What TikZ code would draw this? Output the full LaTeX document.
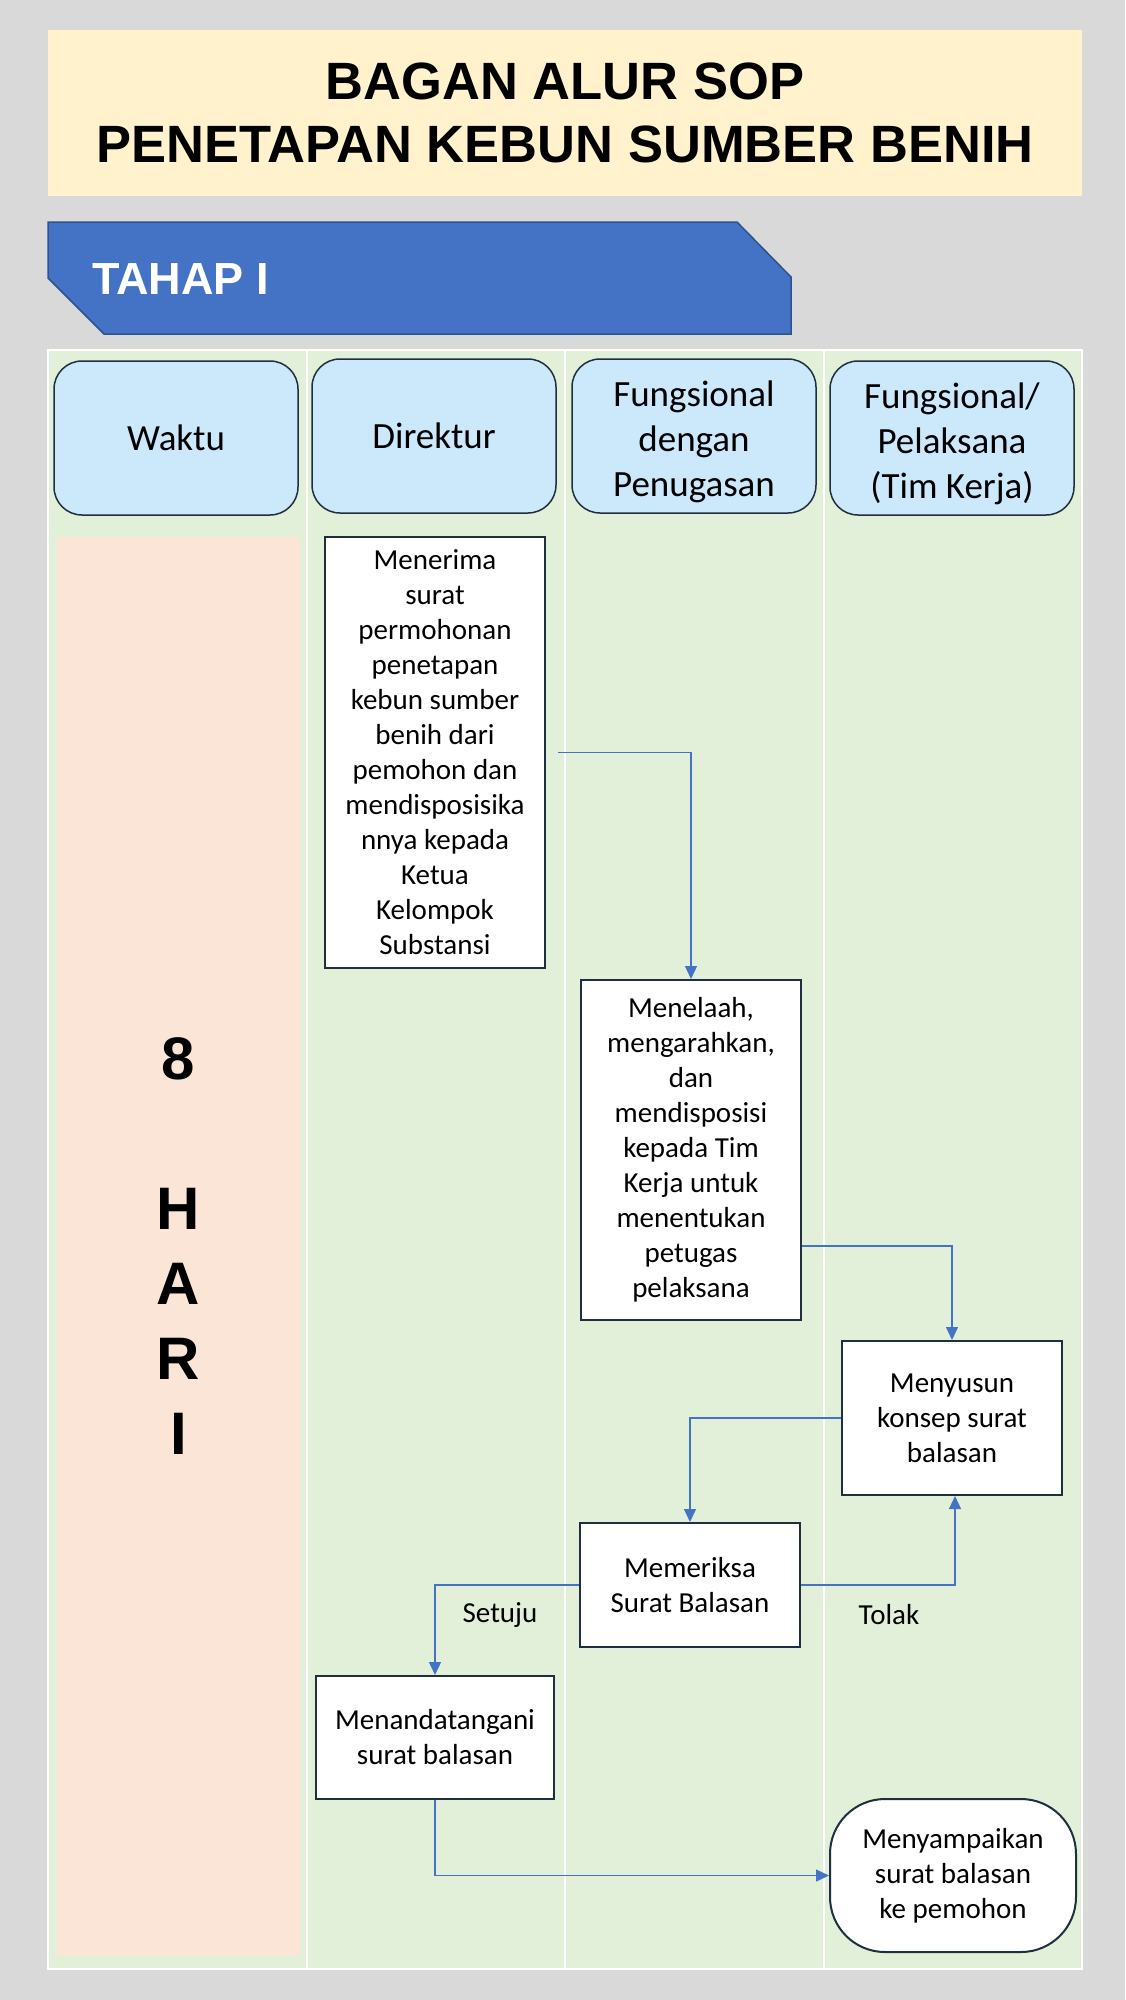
\documentclass[tikz,border=0pt]{standalone}
\usepackage{fontspec}
\setmainfont{Carlito}
\newfontfamily\headfont{Liberation Sans}
\usepackage{tikz}
\usetikzlibrary{arrows.meta,positioning}
\definecolor{bgGray}{HTML}{D9D9D9}
\definecolor{titleYellow}{HTML}{FFF2CC}
\definecolor{bannerBlue}{HTML}{4472C4}
\definecolor{bannerLine}{HTML}{2F528F}
\definecolor{laneGreen}{HTML}{E2F0D9}
\definecolor{peach}{HTML}{FBE5D6}
\definecolor{headBlue}{HTML}{CCE9FC}
\definecolor{boxLine}{HTML}{1F2F40}
\definecolor{flowBlue}{HTML}{4472C4}
\newcommand{\headstrut}{\rule{0pt}{38pt}}

\begin{document}
\begin{tikzpicture}[
   x=1pt, y=-1pt,
   lane/.style={draw=white, line width=2.5pt, fill=laneGreen},
   head/.style={draw=boxLine, line width=1.5pt, rounded corners=28pt,
      fill=headBlue, minimum width=244pt, minimum height=154pt,
      align=center, inner sep=0pt, font=\fontsize{37}{45}\selectfont},
   box/.style={draw=boxLine, line width=2pt, fill=white, align=center,
      inner sep=0pt, font=\fontsize{29}{35}\selectfont},
   arrow/.style={-{Triangle[length=13pt, width=12pt]}, draw=flowBlue,
      line width=1.3pt},
   lab/.style={font=\fontsize{29}{35}\selectfont, inner sep=0pt}
]
\fill[bgGray] (0,0) rectangle (1125,2000);
\useasboundingbox (0,0) rectangle (1125,2000);

% judul
\node[fill=titleYellow, minimum width=1034pt, minimum height=166pt,
   inner sep=0pt, align=center,
   font=\headfont\bfseries\fontsize{52.5}{63}\selectfont] (title) at (565,113)
   {BAGAN ALUR SOP\\PENETAPAN KEBUN SUMBER BENIH};

% tahap
\draw[fill=bannerBlue, draw=bannerLine, line width=1.5pt]
   (48,222) -- (737,222) -- (791,277) -- (791,334) -- (104,334) -- (48,278)
   -- cycle;
\node[anchor=west, inner sep=0pt, text=white,
   font=\headfont\bfseries\fontsize{45}{54}\selectfont] (tahap) at (92,279)
   {TAHAP I};

% lajur
\foreach \x/\w in {48/259, 307/258, 565/259, 824/258}
   \draw[lane] (\x,350) rectangle ++(\w,1619);

\node[head] (waktu) at (176,438) {\raisebox{-4pt}{Waktu}};
\node[head] (direktur) at (434,436) {\raisebox{-4pt}{Direktur}};
\node[head] (fungsional) at (694,436)
   {\headstrut Fungsional\\dengan\\Penugasan};
\node[head] (pelaksana) at (952,438)
   {\headstrut Fungsional/\\Pelaksana\\(Tim Kerja)};

\node[fill=peach, minimum width=243pt, minimum height=1419pt, inner sep=0pt,
   align=center, font=\headfont\bfseries\fontsize{60}{75}\selectfont]
   (hari) at (178.5,1246.5) {8\\[75pt]H\\A\\R\\I};

% langkah
\node[box, minimum width=220pt, minimum height=431pt] (terima) at (435,752.5)
   {Menerima\\surat\\permohonan\\penetapan\\kebun sumber\\benih dari\\
    pemohon dan\\mendisposisika\\nnya kepada\\Ketua\\Kelompok\\Substansi};
\node[box, minimum width=220pt, minimum height=340pt] (telaah) at (691,1150)
   {Menelaah,\\mengarahkan,\\dan\\mendisposisi\\kepada Tim\\Kerja untuk\\
    menentukan\\petugas\\pelaksana};
\node[box, minimum width=220pt, minimum height=154pt] (susun) at (952,1418)
   {Menyusun\\konsep surat\\balasan};
\node[box, minimum width=220pt, minimum height=124pt] (periksa) at (690,1585)
   {Memeriksa\\Surat Balasan};
\node[box, minimum width=238pt, minimum height=123pt] (tanda) at (435,1737.5)
   {Menandatangani\\surat balasan};
\node[box, rounded corners=55pt, minimum width=246pt, minimum height=153pt]
   (sampai) at (953,1875.5) {Menyampaikan\\surat balasan\\ke pemohon};

\node[lab] (setuju) at (500,1615) {Setuju};
\node[lab] (tolak) at (889,1615) {Tolak};

\draw[arrow, shorten <=12pt] (terima.east) -| (telaah.north);
\draw[arrow] ([yshift=-96pt]telaah.east) -| (susun.north);
\draw[arrow] (susun.west) -| (periksa.north);
\draw[arrow] (periksa.west) -| (tanda.north);
\draw[arrow] (periksa.east) -| ([xshift=3pt]susun.south);
\draw[arrow] (tanda.south) |- (sampai.west);
\end{tikzpicture}
\end{document}
